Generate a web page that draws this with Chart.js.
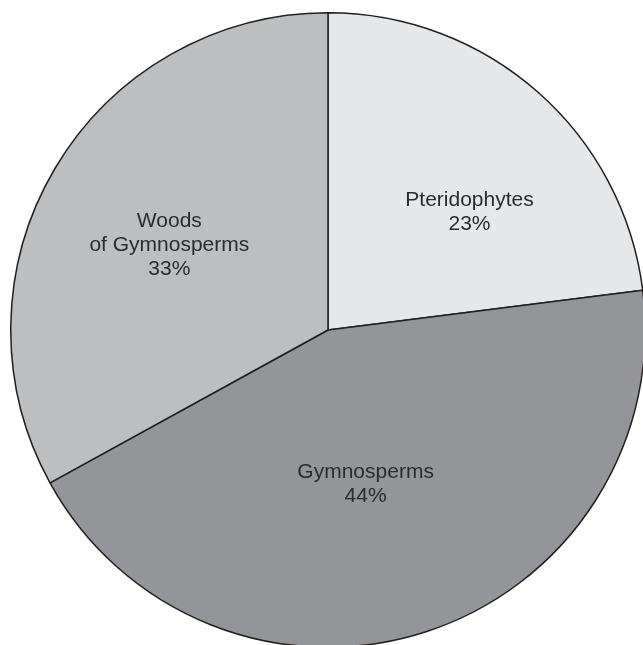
<!DOCTYPE html>
<html>
<head>
<meta charset="utf-8">
<script src="https://cdn.jsdelivr.net/npm/chart.js@4/dist/chart.umd.min.js"></script>
<style>
  html, body { margin: 0; padding: 0; background: #ffffff; overflow: hidden; width: 643px; height: 645px; }
  #wrap { position: absolute; left: 10px; top: 12px; width: 636px; height: 636px; }
</style>
</head>
<body>
<div id="wrap"><canvas id="c" width="636" height="636"></canvas></div>
<script>
const categories = ["Pteridophytes", "Gymnosperms", "Woods of Gymnosperms"];
const labelLines = [["Pteridophytes"], ["Gymnosperms"], ["Woods", "of Gymnosperms"]];
const shares = [23, 44, 33];
const sliceColors = ["#e6e7e8", "#939598", "#bcbec0"];

const labelPlugin = {
  id: 'sliceLabels',
  afterDatasetsDraw(chart, args, opts) {
    const ctx = chart.ctx;
    const meta = chart.getDatasetMeta(0);
    const data = chart.data.datasets[0].data;
    const total = data.reduce((a, b) => a + b, 0);
    ctx.save();
    ctx.font = opts.font;
    ctx.fillStyle = opts.color;
    ctx.textAlign = 'center';
    ctx.textBaseline = 'middle';
    meta.data.forEach((arc, i) => {
      const p = arc.getProps(['x', 'y', 'startAngle', 'endAngle', 'outerRadius'], true);
      const place = opts.place[i];
      const a = p.startAngle + place.af * (p.endAngle - p.startAngle);
      const d = place.rf * p.outerRadius;
      const cx = p.x + Math.cos(a) * d;
      const cy = p.y + Math.sin(a) * d;
      const lines = labelLines[i].concat([Math.round(data[i] / total * 100) + '%']);
      const lh = opts.lineHeight;
      const y0 = cy - (lines.length - 1) * lh / 2;
      lines.forEach((t, k) => ctx.fillText(t, cx, y0 + k * lh));
    });
    ctx.restore();
  }
};

new Chart(document.getElementById('c'), {
  type: 'pie',
  data: {
    labels: categories,
    datasets: [{
      data: shares,
      backgroundColor: sliceColors,
      borderColor: '#231f20',
      borderWidth: 1.5
    }]
  },
  options: {
    responsive: false,
    animation: false,
    layout: { padding: 0 },
    plugins: {
      legend: { display: false },
      tooltip: { enabled: false },
      sliceLabels: {
        font: '21px "Liberation Sans", Arial, sans-serif',
        color: '#2b2b2d',
        lineHeight: 24,
        place: [
          { af: 0.607, rf: 0.58 },
          { af: 0.527, rf: 0.50 },
          { af: 0.479, rf: 0.567 }
        ]
      }
    }
  },
  plugins: [labelPlugin]
});
</script>
</body>
</html>
